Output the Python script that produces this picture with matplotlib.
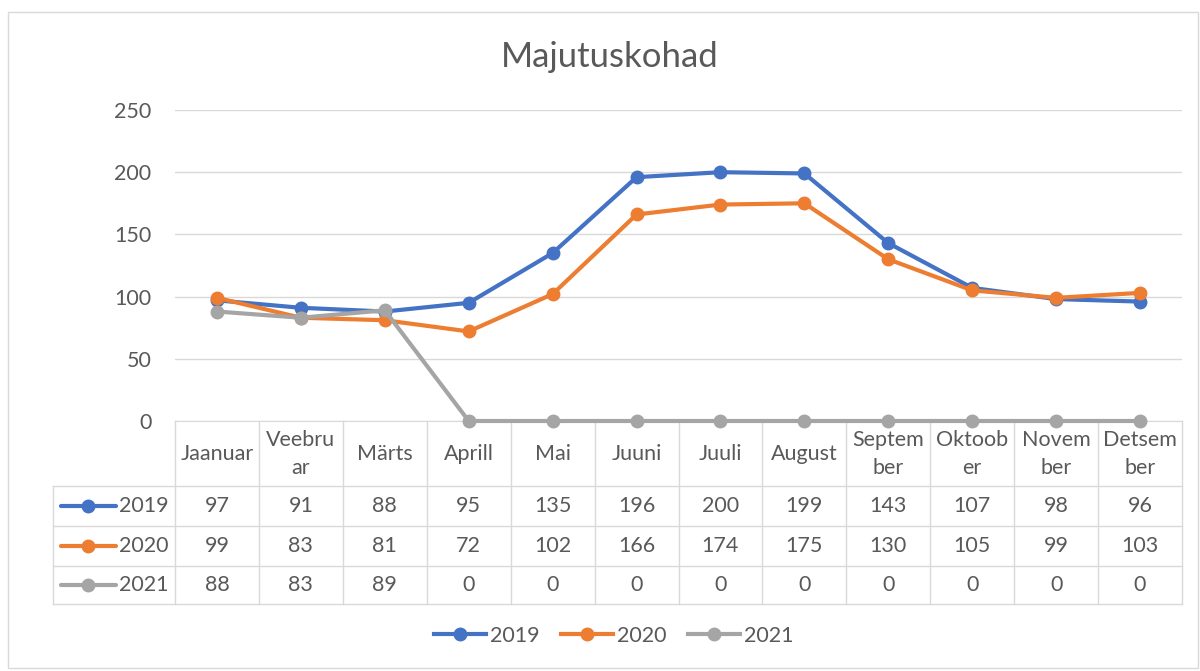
import matplotlib.pyplot as plt
from matplotlib.transforms import blended_transform_factory
from matplotlib.lines import Line2D

months = ["Jaanuar", "Veebru\nar", "Märts", "Aprill", "Mai", "Juuni", "Juuli",
          "August", "Septem\nber", "Oktoob\ner", "Novem\nber", "Detsem\nber"]
years = ["2019", "2020", "2021"]
v2019 = [97, 91, 88, 95, 135, 196, 200, 199, 143, 107, 98, 96]
v2020 = [99, 83, 81, 72, 102, 166, 174, 175, 130, 105, 99, 103]
v2021 = [88, 83, 89, 0, 0, 0, 0, 0, 0, 0, 0, 0]
series = [v2019, v2020, v2021]
colors = ["#4472C4", "#ED7D31", "#A5A5A5"]

plt.rcParams['font.family'] = ['Lato', 'DejaVu Sans']
txt = "#595959"
grid = "#d9d9d9"
W, H = 1200, 671
fs = 15.5

fig = plt.figure(figsize=(12, 6.71), dpi=100)
fy = lambda p: 1 - p / H
fx = lambda p: p / W

# chart border
fig.add_artist(plt.Rectangle((fx(8), fy(668)), fx(1190), (668 - 12) / H,
                             transform=fig.transFigure, fill=False, ec=grid, lw=1))

ax = fig.add_axes([fx(175), fy(421), fx(1182 - 175), (421 - 110) / H])
x = list(range(len(months)))
for vals, c in zip(series, colors):
    ax.plot(x, vals, color=c, lw=3, marker='o', ms=9, clip_on=False, zorder=3)
ax.set_xlim(-0.5, len(months) - 0.5)
ax.set_ylim(0, 250)
ax.set_yticks(range(0, 251, 50))
ax.yaxis.grid(True, color=grid, lw=1)
ax.set_axisbelow(True)
for s in ["top", "right", "left"]:
    ax.spines[s].set_visible(False)
ax.spines["bottom"].set_color(grid)
ax.tick_params(axis='y', length=0, pad=17, labelsize=fs, labelcolor=txt)
ax.tick_params(axis='x', length=0, labelbottom=False)
fig.text(fx(610), fy(57), "Majutuskohad", ha='center', va='center', fontsize=25, color=txt)

# data table under the axis
tr = blended_transform_factory(ax.transData, fig.transFigure)
rows_y = [421, 486, 526, 566, 604]
for i in range(len(months) + 1):
    ax.add_line(Line2D([i - 0.5, i - 0.5], [fy(421), fy(604)], transform=tr,
                       color=grid, lw=1, clip_on=False))
for yy in rows_y[1:]:
    fig.add_artist(Line2D([fx(53), fx(1182)], [fy(yy), fy(yy)],
                          transform=fig.transFigure, color=grid, lw=1))
fig.add_artist(Line2D([fx(53), fx(53)], [fy(486), fy(604)],
                      transform=fig.transFigure, color=grid, lw=1))
for i, m in enumerate(months):
    ax.text(i, fy(454), m, transform=tr, ha='center', va='center',
            fontsize=fs, color=txt, linespacing=1.45)
for r, (vals, c, yr) in enumerate(zip(series, colors, years)):
    yc = (rows_y[r + 1] + rows_y[r + 2]) / 2
    for i, v in enumerate(vals):
        ax.text(i, fy(yc), str(v), transform=tr, ha='center', va='center',
                fontsize=fs, color=txt)
    fig.add_artist(Line2D([fx(61), fx(116)], [fy(yc), fy(yc)], transform=fig.transFigure,
                          color=c, lw=3, solid_capstyle='round'))
    fig.add_artist(Line2D([fx(88)], [fy(yc)], transform=fig.transFigure,
                          color=c, marker='o', ms=9))
    fig.text(fx(119), fy(yc), yr, ha='left', va='center', fontsize=fs, color=txt)

# legend at bottom
handles = [Line2D([], [], color=c, lw=3, marker='o', ms=9) for c in colors]
fig.legend(handles, years, loc='center', bbox_to_anchor=(fx(614), fy(636)), ncol=3,
           frameon=False, fontsize=fs, labelcolor=txt, handlelength=2.4,
           columnspacing=1.0, handletextpad=0.2)

fig.savefig("out.png", dpi=100)
